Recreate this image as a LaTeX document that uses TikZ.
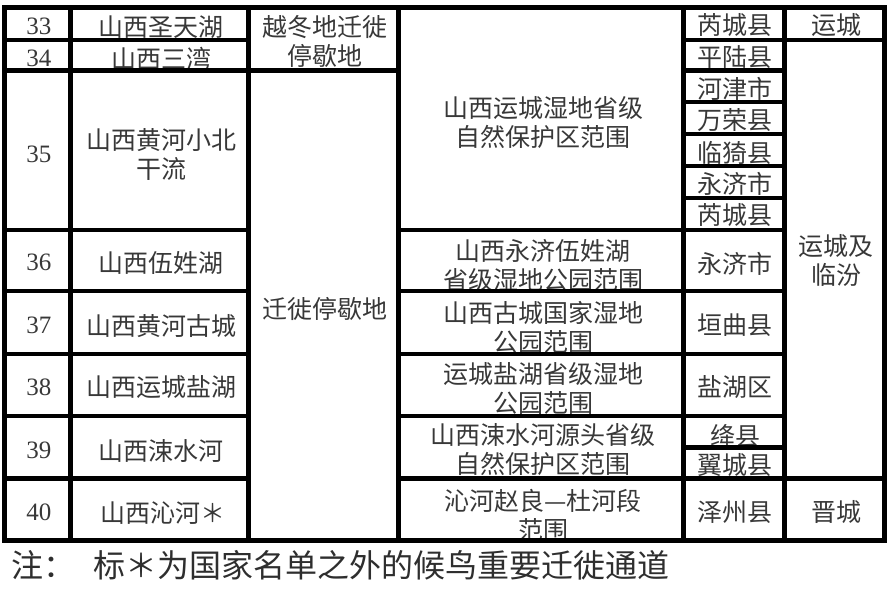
\documentclass[tikz,border=0pt]{standalone}
\usepackage{fontspec}
\newfontfamily\cjk{Noto Sans CJK SC}
\newfontfamily\digits{Liberation Serif}
\tikzset{
  cell/.style = {inner sep=0pt, align=center, text=black!78,
    font=\cjk\fontsize{25}{29}\selectfont},
  num/.style = {cell, font=\digits\fontsize{25}{29}\selectfont},
  note/.style = {cell, anchor=west, text=black!82, font=\cjk\fontsize{32}{36}\selectfont},
  rule/.style = {line width=4.5pt, line cap=rect}
}

\begin{document}
\begin{tikzpicture}[x=1pt,y=-1pt]
  \useasboundingbox (0,0) rectangle (895,603);
  % numbers
  \foreach \n/\y in {33/26.5,34/58.5,35/154,36/262.5,37/325,38/387,39/450,40/512.5}
    \node[num] (n\n) at (39,\y) {\n};
  % sites
  \node[cell] (s33) at (161,27.5) {山西圣天湖};
  \node[cell] (s34) at (161,58.5) {山西三湾};
  \node[cell] (s35) at (161,154) {山西黄河小北\\干流};
  \node[cell] (s36) at (161,263) {山西伍姓湖};
  \node[cell] (s37) at (161,326) {山西黄河古城};
  \node[cell] (s38) at (161,387.5) {山西运城盐湖};
  \node[cell] (s39) at (161,451) {山西涑水河};
  \node[cell] (s40) at (163,513) {山西沁河＊};
  % kind of site
  \node[cell] (k1) at (325,42) {越冬地迁徙\\停歇地};
  \node[cell] (k2) at (325,309) {迁徙停歇地};
  % reserves
  \node[cell] (r35) at (543,123) {山西运城湿地省级\\自然保护区范围};
  \node[cell] (r36) at (543,265) {山西永济伍姓湖\\省级湿地公园范围};
  \node[cell] (r37) at (543,327) {山西古城国家湿地\\公园范围};
  \node[cell] (r38) at (543,388) {运城盐湖省级湿地\\公园范围};
  \node[cell] (r39) at (543,450) {山西涑水河源头省级\\自然保护区范围};
  \node[cell] (r40) at (543,515) {沁河赵良—杜河段\\范围};
  % counties
  \foreach \t/\y [count=\i] in {芮城县/25.5,平陆县/57.5,河津市/88.5,万荣县/120.5,
      临猗县/152.5,永济市/183.5,芮城县/215.5,永济市/263.5,垣曲县/325.5,
      盐湖区/387.5,绛县/435.5,翼城县/465.5,泽州县/512.5}
    \node[cell] (c\i) at (735,\y) {\t};
  % cities
  \node[cell] (t1) at (836,25.5) {运城};
  \node[cell] (t2) at (836,260) {运城及\\临汾};
  \node[cell] (t3) at (836,512.5) {晋城};
  % grid
  \draw[rule] (4.5,7.5) rectangle (884.5,540.5);
  \foreach \x in {70.7,248.5,398.5,683.5,784.5}
    \draw[rule] (\x,7.5) -- (\x,540.5);
  \draw[rule] (4.5,40) -- (248.5,40) (683.5,40) -- (884.5,40);
  \draw[rule] (4.5,70.5) -- (398.5,70.5) (683.5,70.5) -- (784.5,70.5);
  \foreach \y in {102,134,166,198,447.5}
    \draw[rule] (683.5,\y) -- (784.5,\y);
  \foreach \y in {230,291,354,416}
    \draw[rule] (4.5,\y) -- (248.5,\y) (398.5,\y) -- (784.5,\y);
  \draw[rule] (4.5,478.5) -- (248.5,478.5) (398.5,478.5) -- (884.5,478.5);
  % note
  \node[note] (N) at (11,565) {注：};
  \node[note] (M) at (93,565) {标＊为国家名单之外的候鸟重要迁徙通道};
\end{tikzpicture}
\end{document}
